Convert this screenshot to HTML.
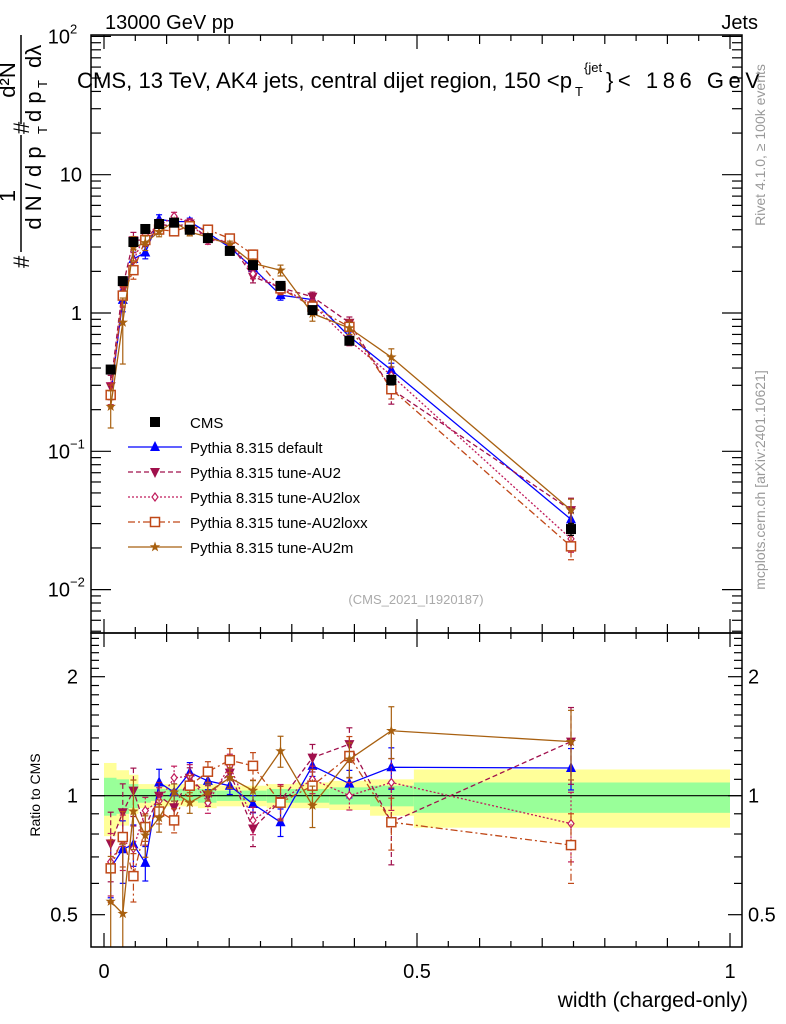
<!DOCTYPE html>
<html><head><meta charset="utf-8"><style>
html,body{margin:0;padding:0;background:#fff;}
svg{display:block;font-family:"Liberation Sans",sans-serif;}
</style></head><body>
<svg id="chart" width="786" height="1024" viewBox="0 0 786 1024" xmlns="http://www.w3.org/2000/svg">
<defs>
<clipPath id="clipMain"><rect x="91" y="35" width="651" height="598"/></clipPath>
<clipPath id="clipRatio"><rect x="91" y="633" width="651" height="314"/></clipPath>
</defs>
<g id="bands" clip-path="url(#clipRatio)"></g>
<line x1="91" x2="742" y1="795.7" y2="795.7" stroke="#000" stroke-width="1.2"/>
<g id="mainMarks" clip-path="url(#clipMain)"></g>
<g id="ratioMarks" clip-path="url(#clipRatio)"></g>
<g id="axes"></g>
<rect x="91" y="35" width="651" height="598" fill="none" stroke="#000" stroke-width="1.5"/>
<rect x="91" y="633" width="651" height="314" fill="none" stroke="#000" stroke-width="1.5"/>
<text x="105" y="29" font-size="20">13000 GeV pp</text>
<text x="758" y="29" font-size="20" text-anchor="end">Jets</text>
<text x="77" y="88" font-size="22" textLength="495" lengthAdjust="spacingAndGlyphs">CMS, 13 TeV, AK4 jets, central dijet region, 150 &lt;p</text>
<text x="575" y="96" font-size="13">T</text>
<text x="584" y="72" font-size="13">{jet</text>
<text x="606" y="88" font-size="22" textLength="154" lengthAdjust="spacing">}&lt; 186 GeV</text>
<text x="416" y="604" font-size="13" fill="#aaa" text-anchor="middle">(CMS_2021_I1920187)</text>
<text transform="translate(765,145) rotate(-90)" font-size="14" fill="#999" text-anchor="middle">Rivet 4.1.0, ≥ 100k events</text>
<text transform="translate(765,480) rotate(-90)" font-size="14" fill="#999" text-anchor="middle">mcplots.cern.ch [arXiv:2401.10621]</text>
<g font-size="22">
<text transform="translate(29,268) rotate(-90)">#</text>
<line x1="21" x2="21" y1="135" y2="252" stroke="#000" stroke-width="1.5"/>
<text transform="translate(15,196) rotate(-90)" text-anchor="middle">1</text>
<text transform="translate(41,188) rotate(-90)" text-anchor="middle">d N / d p</text>
<text transform="translate(47,134) rotate(-90)" font-size="13">T</text>
<text transform="translate(29,134) rotate(-90)">#</text>
<line x1="21" x2="21" y1="35" y2="124" stroke="#000" stroke-width="1.5"/>
<text transform="translate(15,80) rotate(-90)" text-anchor="middle">d²N</text>
<text transform="translate(41,122) rotate(-90)">d p</text>
<text transform="translate(47,88) rotate(-90)" font-size="13">T</text>
<text transform="translate(41,68) rotate(-90)">dλ</text>
</g>
<text transform="translate(40,795) rotate(-90)" font-size="14" text-anchor="middle">Ratio to CMS</text>
<text x="748" y="1007" font-size="21" text-anchor="end">width (charged-only)</text>
<g id="legend"></g>
</svg>
<script>
const NS="http://www.w3.org/2000/svg";
// ---- data ----
const xCenters=[0.0107,0.030,0.047,0.066,0.088,0.112,0.137,0.166,0.201,0.238,0.282,0.333,0.392,0.459,0.746];
const cmsValues=[0.39,1.70,3.26,4.05,4.4,4.5,4.0,3.48,2.81,2.22,1.57,1.05,0.63,0.328,0.0274];
const cmsErr=[0.05,0.05,0.04,0.04,0.04,0.04,0.04,0.04,0.04,0.04,0.05,0.05,0.06,0.08,0.1];
const ratioDefault=[0.657,0.732,0.753,0.676,1.08,1.02,1.144,1.09,1.06,0.953,0.857,1.19,1.073,1.18,1.175];
const ratioAU2=[0.757,0.908,1.03,0.833,1.0,0.935,1.11,1.0,1.144,0.826,0.97,1.248,1.35,0.857,1.37];
const ratioAU2lox=[0.68,0.77,0.735,0.917,0.97,1.11,1.12,0.96,1.19,0.866,0.97,1.10,1.0,1.08,0.85];
const ratioAU2loxx=[0.655,0.786,0.626,0.833,0.912,0.866,1.06,1.15,1.23,1.19,0.96,1.06,1.26,0.857,0.75];
const ratioAU2m=[0.54,0.503,0.913,0.794,0.879,1.02,0.96,1.02,1.11,1.03,1.297,0.944,1.236,1.46,1.37];
const errDefault=[0.16,0.18,0.12,0.1,0.08,0.05,0.06,0.05,0.05,0.05,0.08,0.06,0.08,0.12,0.12];
const errAU2=[0.2,0.18,0.14,0.1,0.08,0.08,0.06,0.06,0.08,0.1,0.1,0.08,0.1,0.22,0.22];
const errAU2lox=[0.18,0.16,0.14,0.08,0.08,0.07,0.07,0.06,0.07,0.08,0.1,0.08,0.08,0.15,0.2];
const errAU2loxx=[0.18,0.16,0.14,0.08,0.07,0.07,0.06,0.06,0.07,0.08,0.1,0.1,0.12,0.15,0.2];
const errAU2m=[0.3,0.5,0.2,0.12,0.08,0.05,0.06,0.05,0.06,0.06,0.09,0.12,0.1,0.15,0.2];
const binEdges=[0,0.02,0.04,0.055,0.075,0.1,0.125,0.15,0.18,0.22,0.26,0.305,0.36,0.425,0.495,1.0];
const yellowUp=[1.21,1.16,1.13,1.07,1.07,1.07,1.07,1.07,1.06,1.06,1.07,1.08,1.09,1.1,1.165];
const yellowDn=[0.79,0.84,0.9,0.93,0.94,0.94,0.94,0.93,0.94,0.94,0.93,0.93,0.92,0.89,0.83];
const greenUp=[1.11,1.10,1.07,1.04,1.04,1.04,1.04,1.04,1.03,1.03,1.04,1.04,1.05,1.06,1.08];
const greenDn=[0.89,0.90,0.93,0.96,0.97,0.97,0.97,0.96,0.97,0.97,0.96,0.96,0.95,0.94,0.905];
const seriesNames=["Pythia 8.315 default","Pythia 8.315 tune-AU2","Pythia 8.315 tune-AU2lox","Pythia 8.315 tune-AU2loxx","Pythia 8.315 tune-AU2m"];
const seriesRatios=[ratioDefault,ratioAU2,ratioAU2lox,ratioAU2loxx,ratioAU2m];
const seriesErrs=[errDefault,errAU2,errAU2lox,errAU2loxx,errAU2m];
const seriesColors=["#0000ff","#a0104c","#c01c5c","#c04818","#a86010"];
const seriesDash=["none","5,3","2,2","7,3,2,3","none"];
const seriesMarker=["triup","tridown","diamond","square","star"];
const seriesKeys=["default","au2","au2lox","au2loxx","au2m"];
const yMainTicks=[100,10,1,0.1,0.01];
const yMainLabels=[["10","2"],["10",""],["1",""],["10","−1"],["10","−2"]];
const yRatioTicks=[2,1,0.5];
const yRatioLabels=["2","1","0.5"];
const xTicks=[0,0.5,1];
const xTickLabels=["0","0.5","1"];
// ---- scales ----
const X=w=>104+w*626;
const YM=v=>313-138.3*Math.log10(v);
const YR=r=>795.7-395.3*Math.log10(r);
function mk(tag,attrs,parent){const e=document.createElementNS(NS,tag);for(const k in attrs)e.setAttribute(k,attrs[k]);parent.appendChild(e);return e;}
function marker(type,x,y,color,parent){
  let e;const s=5;
  if(type==="triup")e=mk("polygon",{points:`${x},${y-s-1} ${x-s},${y+s-1} ${x+s},${y+s-1}`,fill:color},parent);
  else if(type==="tridown")e=mk("polygon",{points:`${x},${y+s+1} ${x-s},${y-s+1} ${x+s},${y-s+1}`,fill:color},parent);
  else if(type==="diamond")e=mk("polygon",{points:`${x},${y-4} ${x-3},${y} ${x},${y+4} ${x+3},${y}`,fill:"#fff",stroke:color,"stroke-width":1.2},parent);
  else if(type==="square")e=mk("rect",{x:x-4.5,y:y-4.5,width:9,height:9,fill:"#fff",stroke:color,"stroke-width":1.5},parent);
  else if(type==="star"){let p=[];for(let i=0;i<10;i++){const r=i%2?2.2:5.5,a=-Math.PI/2+i*Math.PI/5;p.push((x+r*Math.cos(a)).toFixed(1)+","+(y+r*Math.sin(a)).toFixed(1));}e=mk("polygon",{points:p.join(" "),fill:color},parent);}
  else if(type==="cms")e=mk("rect",{x:x-5,y:y-5,width:10,height:10,fill:"#000"},parent);
  return e;
}
function errBar(x,y1,y2,color,dash,parent){
  const g=mk("g",{stroke:color,"stroke-width":1.2},parent);
  mk("line",{x1:x,x2:x,y1:y1,y2:y2,"stroke-dasharray":dash==="none"?"":dash},g);
  mk("line",{x1:x-3,x2:x+3,y1:y1,y2:y1},g);mk("line",{x1:x-3,x2:x+3,y1:y2,y2:y2},g);
  return g;
}
const bands=document.getElementById("bands");
const mainG=document.getElementById("mainMarks");
const ratioG=document.getElementById("ratioMarks");
const axes=document.getElementById("axes");
const legend=document.getElementById("legend");
for(let i=0;i<yellowUp.length;i++){
  const y=mk("rect",{x:X(binEdges[i]),width:X(binEdges[i+1])-X(binEdges[i]),y:YR(yellowUp[i]),height:YR(yellowDn[i])-YR(yellowUp[i]),fill:"#ffff99"},bands);
  
  
  const g=mk("rect",{x:X(binEdges[i]),width:X(binEdges[i+1])-X(binEdges[i]),y:YR(greenUp[i]),height:YR(greenDn[i])-YR(greenUp[i]),fill:"#99ff99"},bands);
  
  
}
for(let s=0;s<seriesRatios.length;s++){
  const col=seriesColors[s],dash=seriesDash[s];
  const gm=mk("g",{},mainG);
  
  
  const gr=mk("g",{},ratioG);
  
  
  const vals=seriesRatios[s].map((r,i)=>r*cmsValues[i]);
  const lineAttrs={fill:"none",stroke:col,"stroke-width":1.3};
  if(dash!=="none")lineAttrs["stroke-dasharray"]=dash;
  const pm=mk("polyline",Object.assign({points:vals.map((v,i)=>X(xCenters[i])+","+YM(v)).join(" ")},lineAttrs),gm);
  
  
  const pr=mk("polyline",Object.assign({points:seriesRatios[s].map((r,i)=>X(xCenters[i])+","+YR(r)).join(" ")},lineAttrs),gr);
  
  
  for(let i=0;i<vals.length;i++){
    const e=seriesErrs[s][i],x=X(xCenters[i]);
    const b1=errBar(x,YM(vals[i]*(1+e)),YM(vals[i]*Math.max(0.05,1-e)),col,dash,gm);
    
    
    const m1=marker(seriesMarker[s],x,YM(vals[i]),col,gm);
    
    
    const r=seriesRatios[s][i];
    const b2=errBar(x,YR(r*(1+e)),YR(r*Math.max(0.05,1-e)),col,dash,gr);
    
    
    const m2=marker(seriesMarker[s],x,YR(r),col,gr);
    
    
  }
}
for(let i=0;i<cmsValues.length;i++){
  const x=X(xCenters[i]);
  const b=errBar(x,YM(cmsValues[i]*(1+cmsErr[i])),YM(cmsValues[i]*(1-cmsErr[i])),"#000","none",mainG);
  
  
  const m=marker("cms",x,YM(cmsValues[i]),"#000",mainG);
  
  
}
function tick(x1,y1,x2,y2){mk("line",{x1,y1,x2,y2,stroke:"#000","stroke-width":1.2},axes);}
for(let d=-3;d<=2;d++){for(let k=1;k<10;k++){const v=k*Math.pow(10,d);const y=YM(v);if(y<35||y>633)continue;const L=k===1?20:10;tick(91,y,91+L,y);tick(742,y,742-L,y);}}
for(let k=0.4;k<=2.6;k+=0.1){const y=YR(k);if(y<633||y>947)continue;const major=Math.abs(k-1)<1e-6||Math.abs(k-2)<1e-6||Math.abs(k-0.5)<1e-6;const L=major?14:8;tick(91,y,91+L,y);tick(742,y,742-L,y);}
for(let w=0;w<=1.0001;w+=0.05){const x=X(w);const r=Math.round(w*20);const L=r%10===0?14:(r%2===0?9:6);tick(x,633,x,633-L);tick(x,35,x,35+L);tick(x,947,x,947-L);tick(x,633,x,633+L);}
for(let i=0;i<yMainTicks.length;i++){
  const t=mk("text",{x:yMainLabels[i][1]?70:82,y:YM(yMainTicks[i])+7,"font-size":20,"text-anchor":"end"},axes);
  t.textContent=yMainLabels[i][0];
  
  
  if(yMainLabels[i][1]){const s=mk("text",{x:70,y:YM(yMainTicks[i])-3,"font-size":13},axes);s.textContent=yMainLabels[i][1];
  
  }
}
for(let i=0;i<yRatioTicks.length;i++){
  const t=mk("text",{x:78,y:YR(yRatioTicks[i])+7,"font-size":20,"text-anchor":"end"},axes);t.textContent=yRatioLabels[i];
  
  
  const t2=mk("text",{x:748,y:YR(yRatioTicks[i])+7,"font-size":20},axes);t2.textContent=yRatioLabels[i];
  
  
}
for(let i=0;i<xTicks.length;i++){
  const t=mk("text",{x:X(xTicks[i]),y:978,"font-size":20,"text-anchor":"middle"},axes);t.textContent=xTickLabels[i];
  
  
}
const legNames=["CMS"].concat(seriesNames);
for(let i=0;i<legNames.length;i++){
  const y=422+i*25;
  const g=mk("g",{},legend);
  
  
  if(i===0){marker("cms",155,y,"#000",g);}
  else{const s=i-1;const a={x1:128,x2:182,y1:y,y2:y,stroke:seriesColors[s],"stroke-width":1.3};if(seriesDash[s]!=="none")a["stroke-dasharray"]=seriesDash[s];mk("line",a,g);marker(seriesMarker[s],155,y,seriesColors[s],g);}
  const t=mk("text",{x:190,y:y+6,"font-size":15},g);t.textContent=legNames[i];
}
</script>
</body></html>
